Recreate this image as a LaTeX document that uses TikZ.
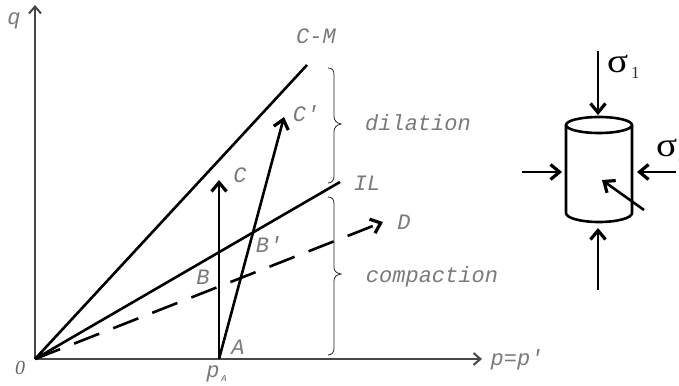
\documentclass[tikz,border=0pt]{standalone}
\usepackage{fontspec}
\setmainfont{Liberation Serif}
\newfontfamily\monoit{Liberation Mono}[ItalicFont=* Italic]
\usetikzlibrary{arrows.meta}
\tikzset{
  x=1pt,y=-1pt,
  tip/.style={-{Straight Barb[length=9pt,width=15pt,line width=3.2pt]}},
  axis/.style={draw=black!72,line width=1.6pt,-{Straight Barb[length=7pt,width=12pt,line width=2pt]}},
  path/.style={draw=black,line width=2.6pt},
  strike/.style={path,tip},
  curly/.style={draw=black!85,line width=0.8pt},
  lab/.style={font=\monoit\itshape\fontsize{22}{22}\selectfont,text=black!52,inner sep=0pt,anchor=center},
  sig/.style={font=\fontsize{34}{34}\selectfont,text=black,inner sep=0pt,anchor=base west,xscale=1.15},
  sigsub/.style={font=\fontsize{17}{17}\selectfont,text=black!80,inner sep=0pt,anchor=base west},
}
\begin{document}
\begin{tikzpicture}
\useasboundingbox (0,0) rectangle (679,385);
\fill[white] (0,0) rectangle (679,385);
\coordinate (O) at (35,359);
\coordinate (qend) at (35,5);
\coordinate (pend) at (482,359);
\coordinate (CM) at (307,65);
\coordinate (IL) at (340,182);
\coordinate (Dend) at (383,222);
\coordinate (A) at (219,359);
\coordinate (Cend) at (219,180);
\coordinate (Cpend) at (284,117);
\draw[axis] (O) -- (qend);
\draw[axis] (O) -- (pend);
\draw[path] (O) -- (CM);
\draw[path] (O) -- (IL);
\draw[path,tip,dash pattern=on 27pt off 15pt] (O) -- (Dend);
\draw[path,tip] (A) -- (Cend);
\draw[path,tip] (A) -- (Cpend);
\draw[curly] (328,68) .. controls (332,68) and (334,70) .. (334,75) -- (334,116) .. controls (334,120) and (336,123) .. (341,124) .. controls (336,125) and (334,128) .. (334,132) -- (334,176) .. controls (334,180) and (332,183) .. (328,183);
\draw[curly] (328,197) .. controls (332,197) and (334,199) .. (334,204) -- (334,267) .. controls (334,271) and (336,273) .. (341,274) .. controls (336,275) and (334,277) .. (334,281) -- (334,348) .. controls (334,352) and (332,355) .. (328,355);
\node[lab] (lq) at (14,21) {q};
\node[lab] (lcm) at (316,36) {C-M};
\node[lab] (lcp) at (306,114) {C'};
\node[lab] (lc) at (240,175) {C};
\node[lab] (lil) at (367,183) {IL};
\node[lab] (lbp) at (269,245) {B'};
\node[lab] (lb) at (203,277) {B};
\node[lab] (ld) at (404,222) {D};
\node[lab] (la) at (238,347) {A};
\node[font=\itshape\fontsize{20}{20}\selectfont,text=black!60,inner sep=0pt] (l0) at (20,368) {0};
\node[lab] (lpp) at (517,360) {p=p'};
\node[lab] (lpa) at (213,374) {p};
\node[font=\monoit\itshape\fontsize{9}{9}\selectfont,text=black!60,inner sep=0pt] (lpas) at (224,379) {A};
\node[lab] (ldil) at (418,123) {dilation};
\node[lab] (lcom) at (432,277) {compaction};
\draw[line width=2.6pt] (566,125) -- (566,213) arc[start angle=180,end angle=0,x radius=33,y radius=9] -- (632,125);
\draw[line width=2.6pt] (599,125) ellipse[x radius=33,y radius=8];
\coordinate (t1) at (598,51); \coordinate (t2) at (598,115);
\coordinate (b1) at (598,290); \coordinate (b2) at (598,228);
\coordinate (l1) at (522,172); \coordinate (l2) at (562,172);
\coordinate (r1) at (676,172); \coordinate (r2) at (637,172);
\coordinate (d1) at (644,210); \coordinate (d2) at (602,180);
\draw[strike] (t1) -- (t2);
\draw[strike] (b1) -- (b2);
\draw[strike] (l1) -- (l2);
\draw[strike] (r1) -- (r2);
\draw[strike] (d1) -- (d2);
\node[sig] (s1) at (607,73) {σ};
\node[sigsub] (s1s) at (631,79) {1};
\node[sig] (s3) at (656,156) {σ};
\node[sigsub] (s3s) at (678,162) {3};
\end{tikzpicture}
\end{document}
